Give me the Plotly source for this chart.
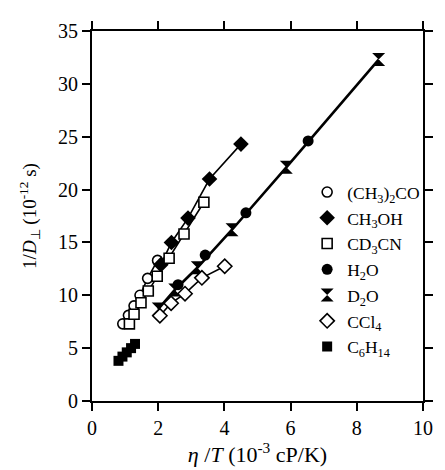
import plotly.graph_objects as go

# Data
acetone_x = [0.93, 1.10, 1.27, 1.45, 1.68, 1.98]
acetone_y = [7.3, 8.1, 9.0, 10.0, 11.6, 13.3]

methanol_x = [2.08, 2.40, 2.90, 3.55, 4.50]
methanol_y = [12.9, 15.0, 17.3, 21.0, 24.3]

cd3cn_x = [1.13, 1.27, 1.48, 1.70, 1.97, 2.33, 2.78, 3.38]
cd3cn_y = [7.3, 8.2, 9.3, 10.4, 11.8, 13.5, 15.8, 18.8]

h2o_x = [2.60, 3.42, 4.65, 6.53]
h2o_y = [11.0, 13.8, 17.8, 24.6]

d2o_x = [2.00, 2.50, 3.18, 4.23, 5.87, 8.66]
d2o_y = [8.7, 10.5, 12.6, 16.2, 22.1, 32.3]

ccl4_x = [2.05, 2.39, 2.81, 3.32, 4.01]
ccl4_y = [8.06, 9.25, 10.15, 11.65, 12.75]

hexane_x = [0.80, 0.92, 1.05, 1.18, 1.30]
hexane_y = [3.8, 4.2, 4.6, 5.0, 5.4]

x_ticks = [0, 2, 4, 6, 8, 10]
y_ticks = [0, 5, 10, 15, 20, 25, 30, 35]

series = [
    ("(CH<sub>3</sub>)<sub>2</sub>CO", acetone_x, acetone_y, "circle-open", 10, True),
    ("CH<sub>3</sub>OH", methanol_x, methanol_y, "diamond", 12, True),
    ("CD<sub>3</sub>CN", cd3cn_x, cd3cn_y, "square-open", 10, True),
    ("H<sub>2</sub>O", h2o_x, h2o_y, "circle", 11, False),
    ("D<sub>2</sub>O", d2o_x, d2o_y, "hourglass", 13, True),
    ("CCl<sub>4</sub>", ccl4_x, ccl4_y, "diamond-open", 11, True),
    ("C<sub>6</sub>H<sub>14</sub>", hexane_x, hexane_y, "square", 10, False),
]

fig = go.Figure()

# connecting lines (no legend)
for name, xs, ys, sym, sz, has_line in series:
    if has_line:
        fig.add_trace(go.Scatter(x=xs, y=ys, mode="lines",
                                 line=dict(color="black", width=1.6 if sym != "hourglass" else 2.6),
                                 showlegend=False, hoverinfo="skip"))

for name, xs, ys, sym, sz, has_line in series:
    opened = sym.endswith("-open")
    fig.add_trace(go.Scatter(
        x=xs, y=ys, mode="markers", name=name,
        marker=dict(symbol=sym.replace("-open", ""), size=sz,
                    color="white" if opened else "black",
                    line=dict(color="black", width=1.6 if opened else 0)),
    ))

font_family = "Liberation Serif"
axis_common = dict(
    showline=True, linecolor="black", linewidth=1.8, mirror="ticks",
    ticks="outside", ticklen=8, tickwidth=1.6, tickcolor="black",
    showgrid=False, zeroline=False,
    tickfont=dict(family=font_family, size=20, color="black"),
)

fig.update_layout(
    width=437, height=462,
    margin=dict(l=84, r=13, t=16, b=68),
    paper_bgcolor="white", plot_bgcolor="white",
    font=dict(family=font_family, color="black"),
    xaxis=dict(range=[0, 10], tickvals=x_ticks,
               title=dict(text="<i>η</i> /<i>T</i> (10<sup>-3</sup> cP/K)",
                          font=dict(family=font_family, size=22), standoff=4),
               **axis_common),
    yaxis=dict(range=[0, 35], tickvals=y_ticks,
               title=dict(text="1/<i>D</i><sub>⊥</sub> (10<sup>-12</sup> s)",
                          font=dict(family=font_family, size=19), standoff=16),
               **axis_common),
    legend=dict(x=0.65, y=0.613, xanchor="left", yanchor="top",
                bgcolor="rgba(0,0,0,0)", borderwidth=0,
                font=dict(family=font_family, size=17.5, color="black"),
                itemwidth=30, tracegroupgap=0),
    showlegend=True,
)

fig.write_html("out.html")
